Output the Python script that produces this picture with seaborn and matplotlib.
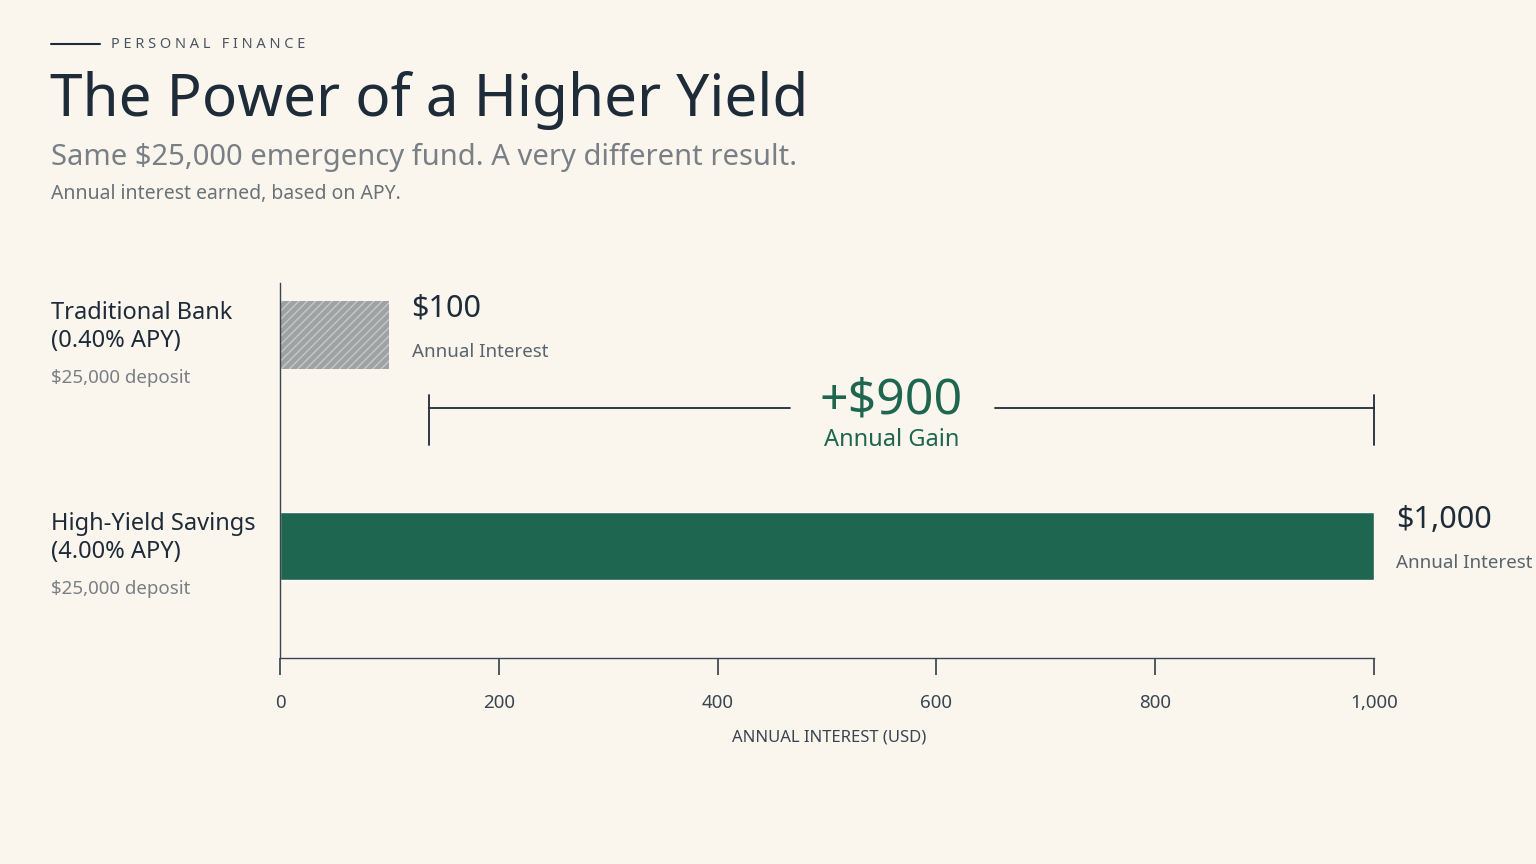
import matplotlib
matplotlib.use("Agg")
import matplotlib.pyplot as plt
import seaborn as sns
import pandas as pd

categories = ["Traditional Bank", "High-Yield Savings"]
apy_labels = ["(0.40% APY)", "(4.00% APY)"]
interest = [100, 1000]
value_labels = ["$100", "$1,000"]
gain = 900
xticks = [0, 200, 400, 600, 800, 1000]
xtick_labels = ["0", "200", "400", "600", "800", "1,000"]

BG = "#faf6ee"; NAVY = "#1e2b38"; GREEN = "#1f6650"; GRAY = "#7a7f85"
sns.set_theme(style="white")
plt.rcParams["font.family"] = ["Noto Sans", "DejaVu Sans"]

W, H = 1536, 864
fig = plt.figure(figsize=(15.36, 8.64), dpi=100, facecolor=BG)
ax = fig.add_axes([280/W, 1-658/H, 1094/W, 375/H], facecolor=BG)

df = pd.DataFrame({"cat": categories, "val": interest})
sns.barplot(data=df, x="val", y="cat", hue="cat", palette=["#9ea2a2", GREEN],
            legend=False, ax=ax, width=68/211, saturation=1)
p0 = ax.patches[0]
p0.set_hatch("////"); p0.set_edgecolor("#c4c8c8"); p0.set_linewidth(0)
plt.rcParams["hatch.color"] = "#c4c8c8"

ax.set_xlim(0, 1000)
ax.set_ylim(1 + 112/211, -52/211)
ax.set_xticks(xticks)
ax.set_xticklabels(xtick_labels, fontsize=13.5, color="#3a4550")
ax.tick_params(axis="x", length=12, color="#3a4550", pad=14, bottom=True)
ax.set_yticks([]); ax.set_ylabel(""); ax.set_xlabel("")
for s in ["top", "right"]:
    ax.spines[s].set_visible(False)
for s in ["left", "bottom"]:
    ax.spines[s].set_color("#3a4550"); ax.spines[s].set_linewidth(1)

# value labels
for i, (v, lab) in enumerate(zip(interest, value_labels)):
    ax.annotate(lab, (v, i), xytext=(16, 8), textcoords="offset points",
                fontsize=22, fontweight="bold", color=NAVY, va="bottom", ha="left")
    ax.annotate("Annual Interest", (v, i), xytext=(16, -6), textcoords="offset points",
                fontsize=13.5, color="#5a646e", va="top", ha="left")

# gain bracket
yb = 0.346
x0 = 136
ax.plot([x0, 466], [yb, yb], color=NAVY, lw=1.3, clip_on=False)
ax.plot([654, 1000], [yb, yb], color=NAVY, lw=1.3, clip_on=False)
for xx in [x0, 1000]:
    ax.plot([xx, xx], [0.285, 0.522], color=NAVY, lw=1.3, clip_on=False)
ax.text(559, 0.31, f"+${gain:,}", ha="center", va="center", fontsize=36,
        fontweight="bold", color=GREEN)
ax.text(559, 0.50, "Annual Gain", ha="center", va="center", fontsize=17,
        fontweight="bold", color=GREEN)

# category labels
for i, (c, a) in enumerate(zip(categories, apy_labels)):
    yc = [313, 524][i]
    fig.text(51/W, 1-yc/H, c, fontsize=17, fontweight="bold", color=NAVY, va="center")
    fig.text(51/W, 1-(yc+28)/H, a, fontsize=17, fontweight="bold", color=NAVY, va="center")
    fig.text(51/W, 1-(yc+65)/H, "$25,000 deposit", fontsize=13.5, color=GRAY, va="center")

fig.text(829/W, 1-738/H, "ANNUAL INTEREST (USD)", ha="center", va="center",
         fontsize=12, color="#3a4550", fontfamily=["Noto Sans"], )
fig.texts[-1].set_fontproperties(fig.texts[-1].get_fontproperties())

# header
fig.add_artist(plt.Line2D([51/W, 100/W], [1-44/H]*2, color=NAVY, lw=1.5))
fig.text(111/W, 1-44/H, "P E R S O N A L   F I N A N C E", fontsize=10.5,
         color="#4a5560", va="center")
fig.text(50/W, 1-100/H, "The Power of a Higher Yield", fontsize=42,
         fontweight="bold", color=NAVY, va="center")
fig.text(51/W, 1-157/H, "Same $25,000 emergency fund. A very different result.",
         fontsize=21, color=GRAY, va="center")
fig.text(51/W, 1-194/H, "Annual interest earned, based on APY.", fontsize=14,
         color="#6a7278", va="center")

fig.savefig("out.png", dpi=100, facecolor=BG)
